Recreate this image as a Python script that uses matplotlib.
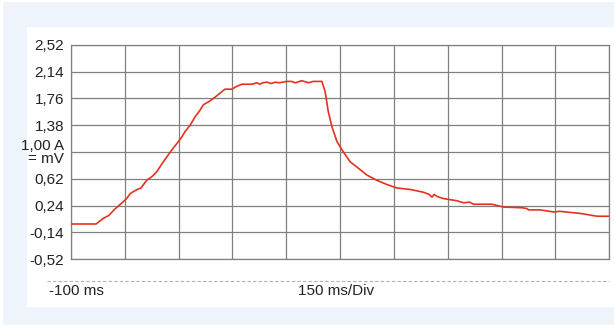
import matplotlib
matplotlib.use("Agg")
import matplotlib.pyplot as plt
from matplotlib.patches import Rectangle
from matplotlib.lines import Line2D

# Data (time in ms, current in A)
time_ms = [-100, -30, -10, 5, 22, 40, 55, 65, 74, 85, 95, 111, 125, 139, 153, 167, 181, 195,
           207, 218, 232, 246, 258, 269, 283, 297, 312, 329, 348, 362, 376, 390, 404, 418,
           426, 434, 445, 458, 470, 480, 501, 515, 525, 543, 562, 575, 599, 608, 617, 627,
           641, 655, 678, 701, 724, 752, 780, 808, 845, 882, 898, 906, 912, 920, 938, 975,
           994, 1010, 1022, 1073, 1105, 1157, 1170, 1175, 1208, 1245, 1262, 1280, 1319,
           1366, 1400]
current = [-0.02, -0.02, 0.06, 0.10, 0.19, 0.27, 0.34, 0.41, 0.44, 0.47, 0.49, 0.60, 0.65, 0.72,
           0.83, 0.93, 1.03, 1.12, 1.20, 1.29, 1.38, 1.50, 1.58, 1.67, 1.71, 1.76, 1.82, 1.89,
           1.89, 1.93, 1.96, 1.96, 1.96, 1.98, 1.96, 1.98, 1.99, 1.97, 1.99, 1.98, 2.00, 2.00,
           1.98, 2.01, 1.98, 2.00, 2.00, 1.86, 1.57, 1.36, 1.15, 1.03, 0.86, 0.77, 0.675, 0.60,
           0.54, 0.49, 0.47, 0.43, 0.40, 0.36, 0.40, 0.37, 0.34, 0.31, 0.28, 0.29, 0.26, 0.26,
           0.22, 0.21, 0.20, 0.18, 0.18, 0.15, 0.16, 0.15, 0.13, 0.09, 0.09]

y_ticks = [-0.52, -0.14, 0.24, 0.62, 1.00, 1.38, 1.76, 2.14, 2.52]
y_tick_labels = ["-0,52", "-0,14", "0,24", "0,62", "1,00 A\n= mV", "1,38", "1,76", "2,14", "2,52"]
x_ticks = [-100, 50, 200, 350, 500, 650, 800, 950, 1100, 1250, 1400]
x_label_left = "-100 ms"
x_label_div = "150 ms/Div"

W, H = 614, 326
fig = plt.figure(figsize=(W / 100, H / 100), dpi=100)
fig.patch.set_facecolor("white")
plt.rcParams['font.family'] = ['Liberation Sans', 'DejaVu Sans']

def fx(px):
    return px / W

def fy(py):
    return 1 - py / H

# backgrounds
fig.patches.append(Rectangle((fx(3), fy(325)), fx(611), (323) / H, transform=fig.transFigure,
                             facecolor="#eff3fb", edgecolor="none", zorder=-10))
fig.patches.append(Rectangle((fx(27), fy(307)), fx(587), (280) / H, transform=fig.transFigure,
                             facecolor="white", edgecolor="none", zorder=-9))

ax = fig.add_axes([fx(71), fy(259.3), fx(538.3), (259.3 - 44.7) / H])
ax.set_facecolor("white")
ax.plot(time_ms, current, color="#e5321e", lw=1.2, zorder=3)
ax.set_xlim(-100, 1400)
ax.set_ylim(-0.52, 2.52)
ax.set_xticks(x_ticks)
ax.set_yticks(y_ticks)
ax.set_yticklabels(y_tick_labels, fontsize=11, color="#222222", linespacing=0.9)
ax.tick_params(axis="x", labelbottom=False, length=0)
ax.tick_params(axis="y", length=0, pad=5)
ax.grid(True, color="#808080", lw=0.9)
for s in ax.spines.values():
    s.set_color("#808080")
    s.set_linewidth(0.9)

fig.lines.append(Line2D([fx(47), fx(609)], [fy(281), fy(281)], transform=fig.transFigure,
                        color="#b0b0b0", lw=0.8, linestyle=(0, (3, 2))))
fig.text(fx(49), fy(291), x_label_left, fontsize=11, color="#222222", va="center", ha="left")
fig.text(fx(298), fy(291), x_label_div, fontsize=11, color="#222222", va="center", ha="left")

fig.savefig("out.png", dpi=100, facecolor="white")
